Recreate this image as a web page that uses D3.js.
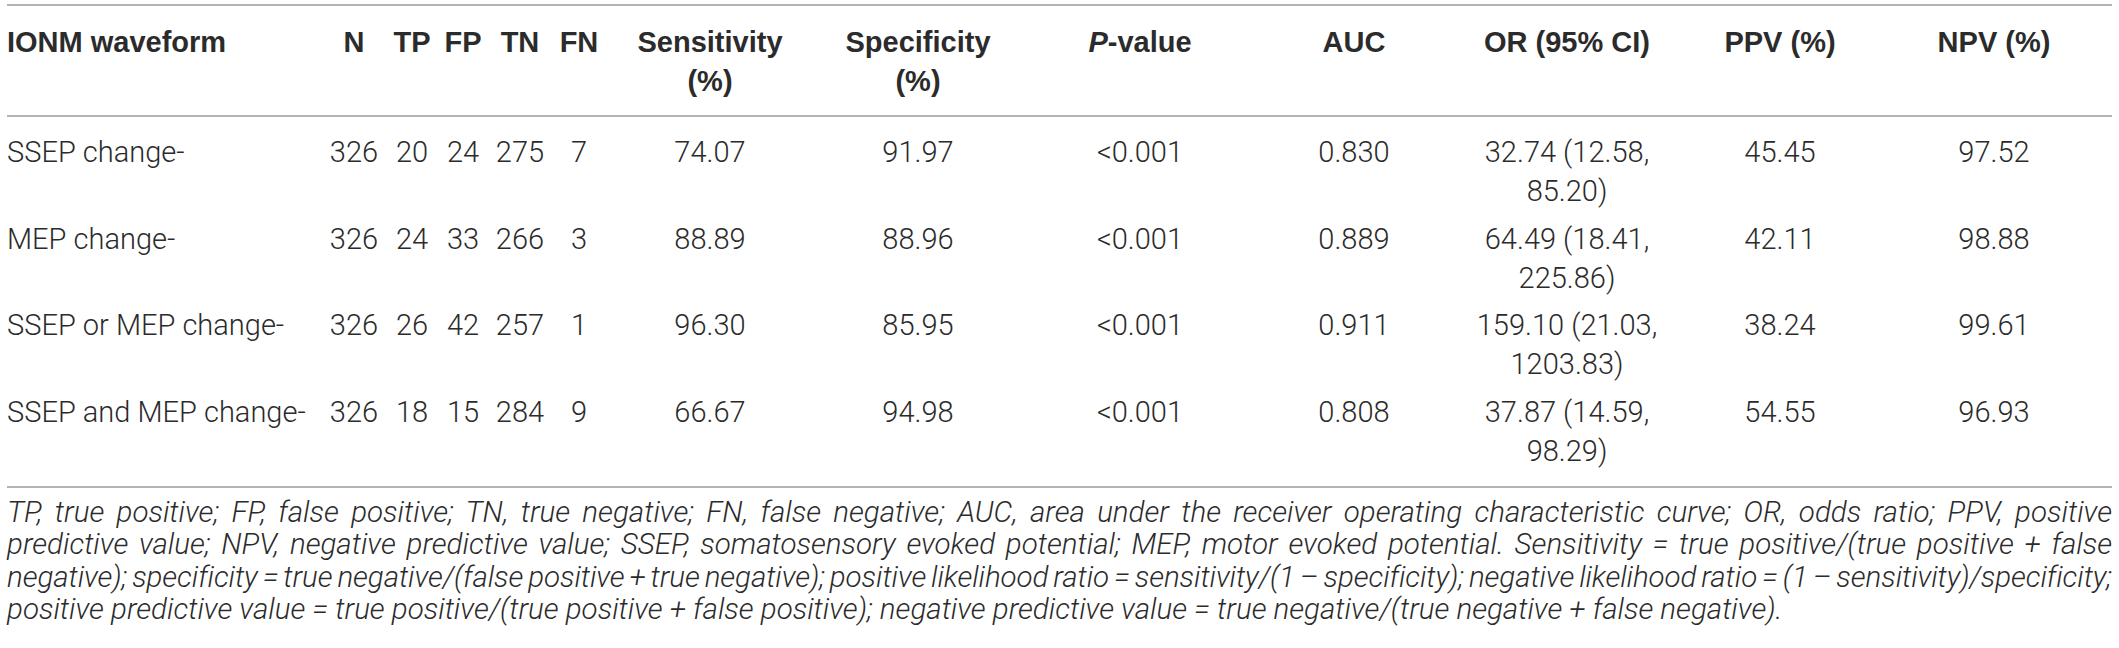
<!DOCTYPE html>
<html>
<head>
<meta charset="utf-8">
<style>
  body { margin: 0; background: #fff; }
  svg text { fill: #2b2b2b; }
  .hd { font-family: "Liberation Sans", Arial, sans-serif; font-weight: bold; font-size: 29px; }
  .cell { font-family: Roboto, "Liberation Sans", sans-serif; font-weight: 300; font-size: 29px; }
  .note { font-family: Roboto, "Liberation Sans", sans-serif; font-weight: 300; font-style: italic; }
</style>
</head>
<body>
<svg id="chart" width="2119" height="648"></svg>
<script src="https://cdnjs.cloudflare.com/ajax/libs/d3/7.8.5/d3.min.js"></script>
<script>
// table values
const waveforms = ["SSEP change-", "MEP change-", "SSEP or MEP change-", "SSEP and MEP change-"];
const nTotal = [326, 326, 326, 326];
const tp = [20, 24, 26, 18];
const fp = [24, 33, 42, 15];
const tn = [275, 266, 257, 284];
const fn = [7, 3, 1, 9];
const sensitivity = [74.07, 88.89, 96.30, 66.67];
const specificity = [91.97, 88.96, 85.95, 94.98];
const pValues = ["<0.001", "<0.001", "<0.001", "<0.001"];
const auc = [0.830, 0.889, 0.911, 0.808];
const orEst = [32.74, 64.49, 159.10, 37.87];
const orLow = [12.58, 18.41, 21.03, 14.59];
const orHigh = [85.20, 225.86, 1203.83, 98.29];
const ppv = [45.45, 42.11, 38.24, 54.55];
const npv = [97.52, 98.88, 99.61, 96.93];

const columns = ["N", "TP", "FP", "TN", "FN", "Sensitivity", "Specificity", "P", "AUC", "OR", "PPV", "NPV"];
const headerLines = {
  N: ["N"], TP: ["TP"], FP: ["FP"], TN: ["TN"], FN: ["FN"],
  Sensitivity: ["Sensitivity", "(%)"], Specificity: ["Specificity", "(%)"],
  P: ["-value"], AUC: ["AUC"], OR: ["OR (95% CI)"], PPV: ["PPV (%)"], NPV: ["NPV (%)"]
};
const footnote = [
  "TP, true positive; FP, false positive; TN, true negative; FN, false negative; AUC, area under the receiver operating characteristic curve; OR, odds ratio; PPV, positive",
  "predictive value; NPV, negative predictive value; SSEP, somatosensory evoked potential; MEP, motor evoked potential. Sensitivity = true positive/(true positive + false",
  "negative); specificity = true negative/(false positive + true negative); positive likelihood ratio = sensitivity/(1 \u2013 specificity); negative likelihood ratio = (1 \u2013 sensitivity)/specificity;",
  "positive predictive value = true positive/(true positive + false positive); negative predictive value = true negative/(true negative + false negative)."
];

const f2 = d3.format(".2f"), f3 = d3.format(".3f");

// layout
const left = 7, right = 2112;
const svg = d3.select("#chart");
const x = d3.scaleOrdinal().domain(columns)
  .range([354, 412, 463, 520, 579, 710, 918, 1140, 1354, 1567, 1780, 1994]);
const y = d3.scalePoint().domain(waveforms).range([162, 422]);
const lineGap = 39;

// rules
[5, 116, 487].forEach(v => {
  svg.append("line").attr("x1", left).attr("x2", right).attr("y1", v).attr("y2", v)
    .attr("stroke", "#9a9a9a").attr("stroke-width", 1.3);
});

// header
svg.append("text").attr("class", "hd").attr("x", left).attr("y", 52).text("IONM waveform");
columns.forEach(c => {
  const t = svg.append("text").attr("class", "hd").attr("text-anchor", "middle").attr("x", x(c)).attr("y", 52);
  if (c === "P") {
    t.append("tspan").attr("font-style", "italic").text("P");
    t.append("tspan").text("-value");
  } else {
    t.text(headerLines[c][0]);
  }
  if (headerLines[c].length > 1) {
    svg.append("text").attr("class", "hd").attr("text-anchor", "middle")
      .attr("x", x(c)).attr("y", 52 + lineGap).text(headerLines[c][1]);
  }
});

// body rows
const rows = waveforms.map((w, i) => ({
  label: w,
  cells: {
    N: [nTotal[i]], TP: [tp[i]], FP: [fp[i]], TN: [tn[i]], FN: [fn[i]],
    Sensitivity: [f2(sensitivity[i])], Specificity: [f2(specificity[i])],
    P: [pValues[i]], AUC: [f3(auc[i])],
    OR: [f2(orEst[i]) + " (" + f2(orLow[i]) + ",", f2(orHigh[i]) + ")"],
    PPV: [f2(ppv[i])], NPV: [f2(npv[i])]
  }
}));

const g = svg.selectAll("g.row").data(rows).join("g").attr("class", "row")
  .attr("transform", d => `translate(0,${y(d.label)})`);
g.append("text").attr("class", "cell").attr("x", left).text(d => d.label);
g.each(function(d) {
  const row = d3.select(this);
  columns.forEach(c => {
    d.cells[c].forEach((s, k) => {
      row.append("text").attr("class", "cell").attr("text-anchor", "middle")
        .attr("x", x(c)).attr("y", k * lineGap).text(s);
    });
  });
});

// footnote: size from the last (unjustified) line, others justified
const noteY = d3.scaleLinear().domain([0, 3]).range([522, 619]);
const probe = svg.append("text").attr("class", "note").attr("font-size", 28).text(footnote[3]);
const noteSize = 28 * 1776 / probe.node().getComputedTextLength();
probe.remove();
const avail = right - left;
footnote.forEach((line, li) => {
  const t = svg.append("text").attr("class", "note").attr("font-size", noteSize)
    .attr("x", left).attr("y", noteY(li)).text(line);
  if (li === footnote.length - 1) return;
  const gaps = line.split(" ").length - 1;
  let natural = t.node().getComputedTextLength();
  if (natural > avail) {
    // tight line: narrow the spaces, then the letters
    t.attr("word-spacing", -2);
    natural = t.node().getComputedTextLength();
    if (natural > avail) {
      t.attr("letter-spacing", (avail - natural) / line.length);
      natural = t.node().getComputedTextLength();
    }
    t.attr("word-spacing", -2 + (avail - natural) / gaps);
  } else {
    t.attr("word-spacing", (avail - natural) / gaps);
  }
});
</script>
</body>
</html>
